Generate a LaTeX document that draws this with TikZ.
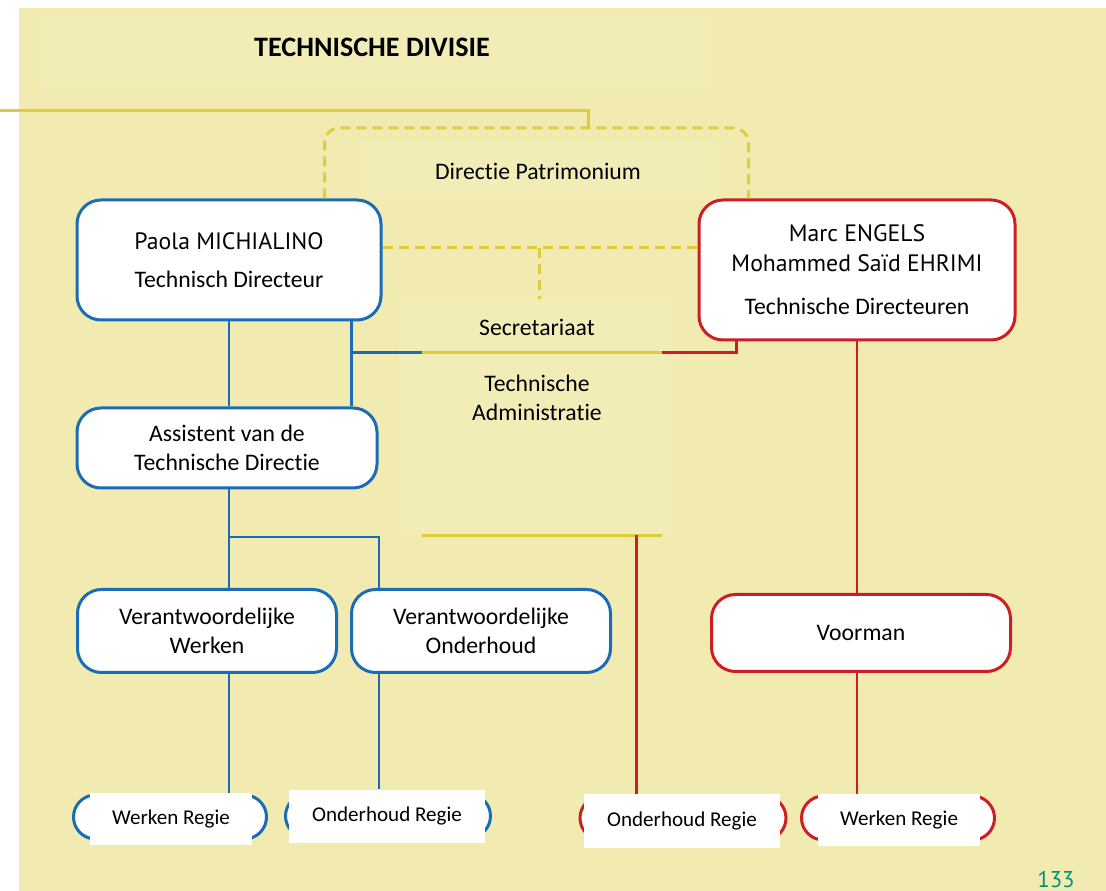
\documentclass[tikz,border=0pt]{standalone}
\usepackage{fontspec}
\setmainfont{Carlito}[Ligatures=NoCommon]
\newfontfamily\namefont{PT Sans}

\newlength{\du}
\setlength{\du}{0.02cm}

\definecolor{pageyellow}{RGB}{241,235,178}
\definecolor{backyellow}{RGB}{242,237,182}
\definecolor{lineyellow}{RGB}{221,205,60}
\definecolor{diablue}{RGB}{26,108,182}
\definecolor{diared}{RGB}{205,30,38}
\definecolor{pageteal}{RGB}{0,146,120}

\tikzset{
  orgbox/.style={draw, fill=white, line width=3\du, rounded corners=24\du,
    align=center, inner sep=0pt, font=\fontsize{13.5}{16.2}\selectfont},
  bluebox/.style={orgbox, draw=diablue},
  redbox/.style={orgbox, draw=diared},
  regiepill/.style={draw, fill=white, line width=3\du, rounded corners=22\du,
    minimum height=44\du, inner sep=0pt},
  regielabel/.style={fill=white, inner sep=0pt, font=\fontsize{12}{14}\selectfont},
  plaintext/.style={inner sep=0pt, font=\fontsize{13.5}{16.2}\selectfont},
  backdrop/.style={fill=backyellow, inner sep=0pt},
  blueline/.style={draw=diablue, line width=2.8\du},
  redline/.style={draw=diared, line width=2.6\du},
  yellowline/.style={draw=lineyellow, line width=3\du},
  dashline/.style={yellowline, dash pattern=on 10\du off 6\du}
}

\begin{document}
\begin{tikzpicture}
\pgftransformxscale{1.000000}
\pgftransformyscale{-1.000000}
\useasboundingbox (0\du,0\du) rectangle (1106\du,891\du);
\fill[pageyellow] (19\du,8\du) rectangle (1106\du,891\du);
% title and lighter text fields
\node[backdrop, minimum width=670\du, minimum height=73\du] (titleback) at (373\du,53\du) {};
\node[inner sep=0pt, font=\fontsize{16}{19}\selectfont\bfseries] (title) at (372\du,47\du) {TECHNISCHE DIVISIE};
\node[backdrop, plaintext, minimum width=356\du, minimum height=57\du] (patri) at (538\du,171\du) {Directie Patrimonium};
\node[backdrop, minimum width=277\du, minimum height=235\du] (secback) at (536\du,417\du) {};
\node[plaintext] (secr) at (537\du,327\du) {Secretariaat};
\node[minimum width=240\du, minimum height=182\du, inner sep=0pt] (admin) at (542\du,444\du) {};
\node[plaintext, align=center] (admintxt) at (537\du,398\du) {Technische\\Administratie};
% directie
\node[bluebox, minimum width=304\du, minimum height=120\du] (paola) at (229\du,260\du)
  {{\namefont Paola MICHIALINO}\\[5.4pt]Technisch Directeur};
\node[redbox, minimum width=316\du, minimum height=140\du] (marc) at (857\du,270\du)
  {{\namefont Marc ENGELS}\\[0.9pt]{\namefont Mohammed Saïd EHRIMI}\\[8.3pt]Technische Directeuren};
\node[bluebox, minimum width=300\du, minimum height=80\du] (assist) at (227\du,448\du) {Assistent van de\\Technische Directie};
\node[bluebox, minimum width=259\du, minimum height=83\du] (werk) at (207\du,631\du) {Verantwoordelijke\\Werken};
\node[bluebox, minimum width=259\du, minimum height=83\du] (onderh) at (481\du,631\du) {Verantwoordelijke\\Onderhoud};
\node[redbox, minimum width=299\du, minimum height=77\du] (voorman) at (861\du,633\du) {Voorman};
% regies
\node[regiepill, draw=diablue, minimum width=193\du] (wrbpill) at (170\du,817\du) {};
\node[regielabel, minimum width=162\du, minimum height=52\du] (wrb) at (171\du,819\du) {Werken Regie};
\node[regiepill, draw=diablue, minimum width=205\du] (orbpill) at (388\du,816\du) {};
\node[regielabel, minimum width=196\du, minimum height=53\du] (orb) at (387\du,816\du) {Onderhoud Regie};
\node[regiepill, draw=diared, minimum width=206\du] (orrpill) at (683\du,818\du) {};
\node[regielabel, minimum width=196\du, minimum height=54\du] (orr) at (682\du,821\du) {Onderhoud Regie};
\node[regiepill, draw=diared, minimum width=193\du] (wrrpill) at (898\du,818\du) {};
\node[regielabel, minimum width=162\du, minimum height=52\du] (wrr) at (899\du,820\du) {Werken Regie};
\node[anchor=base, inner sep=0pt, text=pageteal, font=\namefont\fontsize{13}{15}\selectfont] (pagenum) at (1056\du,887\du) {133};
% yellow: patrimonium
\coordinate (feed) at (0\du,111\du);
\coordinate (dptop) at (588\du,128\du);
\coordinate (dpmid) at (539\du,248\du);
\draw[yellowline] (feed) -| (dptop);
\draw[dashline, rounded corners=15\du] ([xshift=-58\du]paola.north east) |- (dptop) -| ([xshift=51\du]marc.north west);
\draw[dashline] (dpmid -| paola.east) -- (dpmid -| marc.west);
\draw[dashline] (dpmid) -- (dpmid |- secback.north);
\draw[yellowline] (admin.north west) -- (admin.north east);
\draw[yellowline] (admin.south west) -- (admin.south east);
% blue
\coordinate (asplit) at (229\du,537\du);
\draw[blueline] (paola.south) -- (paola.south |- assist.north);
\draw[blueline] ([xshift=-31\du]paola.south east) -- ([xshift=-31\du]paola.south east |- assist.north);
\draw[blueline] (admin.north west) -| ([xshift=-31\du]paola.south east);
\draw[blueline] (paola.south |- assist.south) -- (paola.south |- werk.north);
\draw[blueline] (asplit) -| ([xshift=29\du]onderh.north west);
\draw[blueline] (paola.south |- werk.south) -- (paola.south |- wrb.north);
\draw[blueline] ([xshift=29\du]onderh.south west) -- ([xshift=29\du]onderh.south west |- orb.north);
% red
\draw[redline] ([xshift=39\du]marc.south west) |- (admin.north east);
\draw[redline] ([xshift=-26\du]admin.south east) -- ([xshift=-26\du]admin.south east |- orr.north);
\draw[redline] (marc.south) -- (marc.south |- voorman.north);
\draw[redline] (marc.south |- voorman.south) -- (marc.south |- wrr.north);
\end{tikzpicture}
\end{document}
